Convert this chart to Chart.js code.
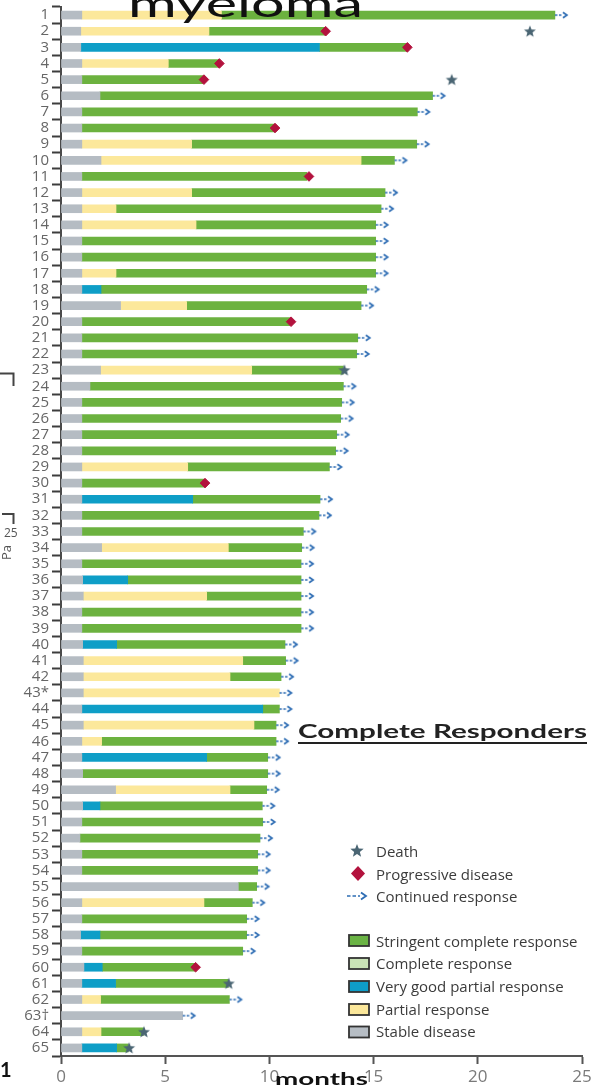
<!DOCTYPE html>
<html>
<head>
<meta charset="utf-8">
<script src="https://cdn.jsdelivr.net/npm/chart.js@4.4.1/dist/chart.umd.min.js"></script>
<style>
  html, body { margin: 0; padding: 0; background: #fff; }
  #wrap { position: relative; width: 615px; height: 1088px; overflow: hidden; }
  #chart { position: absolute; left: 0; top: 0; }
  #overlay { position: absolute; left: 0; top: 0; pointer-events: none; }
</style>
</head>
<body>
<div id="wrap">
  <canvas id="chart" width="615" height="1088"></canvas>
  <svg id="overlay" width="615" height="1088" xmlns="http://www.w3.org/2000/svg">
    <!-- headings and notes -->
    <text x="128" y="17" font-family="Lato" font-size="36" fill="#111" textLength="235" lengthAdjust="spacingAndGlyphs">myeloma</text>
    <text x="298" y="737.5" font-family="Lato" font-weight="700" font-size="18" fill="#222" textLength="289" lengthAdjust="spacingAndGlyphs">Complete Responders</text>
    <line x1="298" y1="743" x2="587" y2="743" stroke="#222" stroke-width="2"/>
    <text x="275" y="1085" font-family="Lato" font-weight="700" font-size="17" fill="#111" textLength="93" lengthAdjust="spacingAndGlyphs">months</text>
    <text x="0" y="1077" font-family="Lato" font-weight="700" font-size="20" fill="#111">1</text>

    <!-- brackets at the left edge -->
    <path d="M0 373.5 H13.5 V386" fill="none" stroke="#444" stroke-width="2"/>
    <path d="M2 514 H13.5 V524" fill="none" stroke="#444" stroke-width="2"/>
    <text x="4" y="537" font-family="Open Sans" font-size="12" fill="#555">25</text>
    <text transform="translate(11,560) rotate(-90)" font-family="Open Sans" font-size="13" fill="#555">Pa</text>

    <!-- legend: event markers -->
    <polygon id="legStar" fill="#4a6573"/>
    <text x="376" y="856.5" font-family="Open Sans" font-size="15" fill="#3b3b3b">Death</text>
    <polygon points="358,866 365,873.5 358,881 351,873.5" fill="#b3123d"/>
    <text x="376" y="879.5" font-family="Open Sans" font-size="15" fill="#3b3b3b">Progressive disease</text>
    <path d="M347 896 H350.5 M352.5 896 H356 M358 896 H360" stroke="#2e6db4" stroke-width="1.6" fill="none"/>
    <path d="M361 892.5 L366 896 L361 899.5" stroke="#2e6db4" stroke-width="1.8" fill="none"/>
    <text x="376" y="901.5" font-family="Open Sans" font-size="15" fill="#3b3b3b">Continued response</text>

    <!-- legend: response categories -->
    <rect x="349" y="935" width="20" height="11" fill="#6ab344" stroke="#333" stroke-width="1.8"/>
    <text x="376" y="946.5" font-family="Open Sans" font-size="15" fill="#3b3b3b">Stringent complete response</text>
    <rect x="349" y="958" width="20" height="11" fill="#c9e3b6" stroke="#333" stroke-width="1.8"/>
    <text x="376" y="969.3" font-family="Open Sans" font-size="15" fill="#3b3b3b">Complete response</text>
    <rect x="349" y="981" width="20" height="11" fill="#0e9dc8" stroke="#333" stroke-width="1.8"/>
    <text x="376" y="992.3" font-family="Open Sans" font-size="15" fill="#3b3b3b">Very good partial response</text>
    <rect x="349" y="1004" width="20" height="11" fill="#fbe79a" stroke="#333" stroke-width="1.8"/>
    <text x="376" y="1015" font-family="Open Sans" font-size="15" fill="#3b3b3b">Partial response</text>
    <rect x="349" y="1026.5" width="20" height="11" fill="#b6bdc4" stroke="#333" stroke-width="1.8"/>
    <text x="376" y="1036.7" font-family="Open Sans" font-size="15" fill="#3b3b3b">Stable disease</text>
  </svg>
</div>
<script>
// Patients, top to bottom
const patients = ['1','2','3','4','5','6','7','8','9','10',
  '11','12','13','14','15','16','17','18','19','20',
  '21','22','23','24','25','26','27','28','29','30',
  '31','32','33','34','35','36','37','38','39','40',
  '41','42','43*','44','45','46','47','48','49','50',
  '51','52','53','54','55','56','57','58','59','60',
  '61','62','63\u2020','64','65'];

// Month at which each response phase ends (null = phase not reached)
const stableEnd = [1.0,0.95,0.95,1.0,1.0,1.87,1.0,1.0,1.0,1.92,
  1.0,1.0,1.0,1.0,1.0,1.0,1.0,1.0,2.86,1.0,
  1.0,1.0,1.9,1.39,1.0,1.0,1.0,1.0,1.0,1.0,
  1.0,1.0,1.0,1.95,1.0,1.04,1.07,1.0,1.0,1.04,
  1.07,1.07,1.07,1.0,1.07,1.0,1.0,1.04,2.62,1.04,
  1.0,0.91,1.0,1.0,8.51,1.0,1.0,0.94,1.0,1.1,
  1.0,1.0,5.84,1.0,1.0];

const partialEnd = [7.7,7.1,null,5.15,null,null,null,null,6.27,14.4,
  null,6.27,2.64,6.48,null,null,2.64,null,6.03,null,
  null,null,9.15,null,null,null,null,null,6.08,null,
  null,null,null,8.03,null,null,6.99,null,null,null,
  8.72,8.11,10.48,null,9.26,1.95,null,null,8.11,null,
  null,null,null,null,null,6.86,null,null,null,null,
  null,1.9,null,1.92,null];

const vgprEnd = [null,null,12.4,null,null,null,null,null,null,null,
  null,null,null,null,null,null,null,1.92,null,null,
  null,null,null,null,null,null,null,null,null,null,
  6.32,null,null,null,null,3.2,null,null,null,2.67,
  null,null,null,9.68,null,null,6.99,null,null,1.87,
  null,null,null,null,null,null,null,1.87,null,1.98,
  2.62,null,null,null,2.67];

const stringentEnd = [23.7,12.67,16.6,7.55,6.8,17.83,17.1,10.25,17.07,16.0,
  11.8,15.55,15.36,15.1,15.1,15.1,15.1,14.67,14.4,11.0,
  14.24,14.19,13.55,13.55,13.47,13.42,13.23,13.18,12.88,6.86,
  12.43,12.38,11.63,11.55,11.52,11.52,11.52,11.52,11.52,10.75,
  10.78,10.56,null,10.48,10.32,10.32,9.92,9.92,9.87,9.66,
  9.68,9.55,9.44,9.44,9.39,9.18,8.91,8.91,8.72,6.43,
  8.03,8.08,null,3.95,3.23];

// Events (month), by patient label
const deaths = [['2',22.5],['5',18.75],['23',13.6],['61',8.05],['64',3.98],['65',3.27]];
const progressions = [['2',12.7],['3',16.62],['4',7.6],['5',6.86],['8',10.27],['11',11.9],['20',11.04],['30',6.91],['60',6.46]];
const continuing = ['1','6','7','9','10','12','13','14','15','16','17','18','19','21','22',
  '24','25','26','27','28','29','31','32','33','34','35','36','37','38','39','40',
  '41','42','43*','44','45','46','47','48','49','50','51','52','53','54','55','56',
  '57','58','59','62','63\u2020'];

const monthTicks = [0, 5, 10, 15, 20, 25];

// ---- marker images ----
function starPoints(cx, cy, ro, ri) {
  const pts = [];
  for (let k = 0; k < 10; k++) {
    const r = k % 2 ? ri : ro;
    const a = -Math.PI / 2 + k * Math.PI / 5;
    pts.push([cx + r * Math.cos(a), cy + r * Math.sin(a)]);
  }
  return pts;
}
const starImg = document.createElement('canvas');
starImg.width = 14; starImg.height = 14;
(function () {
  const c = starImg.getContext('2d');
  c.fillStyle = '#4a6573';
  c.beginPath();
  starPoints(7, 7.5, 6.3, 2.7).forEach((p, i) => i ? c.lineTo(p[0], p[1]) : c.moveTo(p[0], p[1]));
  c.closePath(); c.fill();
})();
document.getElementById('legStar').setAttribute('points',
  starPoints(357, 851, 7, 3).map(p => p[0].toFixed(2) + ',' + p[1].toFixed(2)).join(' '));

// continued-response arrow, drawn in the right half so it starts at the bar end
const arrowImg = document.createElement('canvas');
arrowImg.width = 30; arrowImg.height = 10;
(function () {
  const c = arrowImg.getContext('2d');
  c.strokeStyle = '#2e6db4';
  c.lineWidth = 1.5;
  c.beginPath();
  c.moveTo(15, 5); c.lineTo(17.5, 5);
  c.moveTo(19, 5); c.lineTo(21.5, 5);
  c.stroke();
  c.lineWidth = 1.7;
  c.beginPath();
  c.moveTo(23, 2.2); c.lineTo(27, 5); c.lineTo(23, 7.8);
  c.stroke();
})();

// ---- bars: each phase runs from the end of the previous one ----
const phases = [
  { label: 'Stable disease', ends: stableEnd, color: '#b5bcc3' },
  { label: 'Partial response', ends: partialEnd, color: '#fce89b' },
  { label: 'Very good partial response', ends: vgprEnd, color: '#0e9ec7' },
  { label: 'Stringent complete response', ends: stringentEnd, color: '#6cb23f' }
];
const lastEnd = patients.map(() => 0);
const barSets = phases.map(p => ({
  type: 'bar',
  label: p.label,
  data: p.ends.map((e, i) => {
    if (e == null) return null;
    const seg = [lastEnd[i], e];
    lastEnd[i] = e;
    return seg;
  }),
  backgroundColor: p.color,
  borderWidth: 0,
  barThickness: 8,
  grouped: false,
  order: 2
}));

const markerSets = [
  {
    type: 'scatter', label: 'Continued response',
    data: continuing.map(l => ({ x: lastEnd[patients.indexOf(l)], y: l })),
    pointStyle: arrowImg, pointRadius: 5, order: 1
  },
  {
    type: 'scatter', label: 'Progressive disease',
    data: progressions.map(([l, m]) => ({ x: m, y: l })),
    pointStyle: 'rectRot', pointRadius: 4.8, backgroundColor: '#b3123d',
    borderColor: '#b3123d', borderWidth: 1, order: 0
  },
  {
    type: 'scatter', label: 'Death',
    data: deaths.map(([l, m]) => ({ x: m, y: l })),
    pointStyle: starImg, pointRadius: 6, order: 0
  }
];

new Chart(document.getElementById('chart'), {
  type: 'bar',
  data: { labels: patients, datasets: [...barSets, ...markerSets] },
  options: {
    indexAxis: 'y',
    responsive: false,
    animation: false,
    layout: { padding: { top: 6.6, right: 33, bottom: 0, left: 0 } },
    plugins: { legend: { display: false }, tooltip: { enabled: false } },
    scales: {
      x: {
        type: 'linear', min: 0, max: 25,
        afterBuildTicks(s) { s.ticks = monthTicks.map(v => ({ value: v })); },
        ticks: { font: { family: 'Open Sans', size: 17 }, color: '#7a7a7a', padding: 3 },
        grid: { drawOnChartArea: false, drawTicks: true, tickLength: 8, tickColor: '#555', tickWidth: 2 },
        border: { display: true, color: '#555', width: 2 },
        afterFit(s) { s.height = 32; s.paddingLeft = 0; s.paddingRight = 0; }
      },
      y: {
        type: 'category', offset: true,
        ticks: { font: { family: 'Open Sans', size: 15 }, color: '#666', padding: 3, autoSkip: false },
        grid: { offset: true, drawOnChartArea: false, drawTicks: true, tickLength: 9, tickColor: '#3d3d3d', tickWidth: 2 },
        border: { display: true, color: '#4a4a4a', width: 2 },
        afterFit(s) { s.width = 61; s.paddingTop = 0; s.paddingBottom = 0; }
      }
    }
  }
});
</script>
</body>
</html>
